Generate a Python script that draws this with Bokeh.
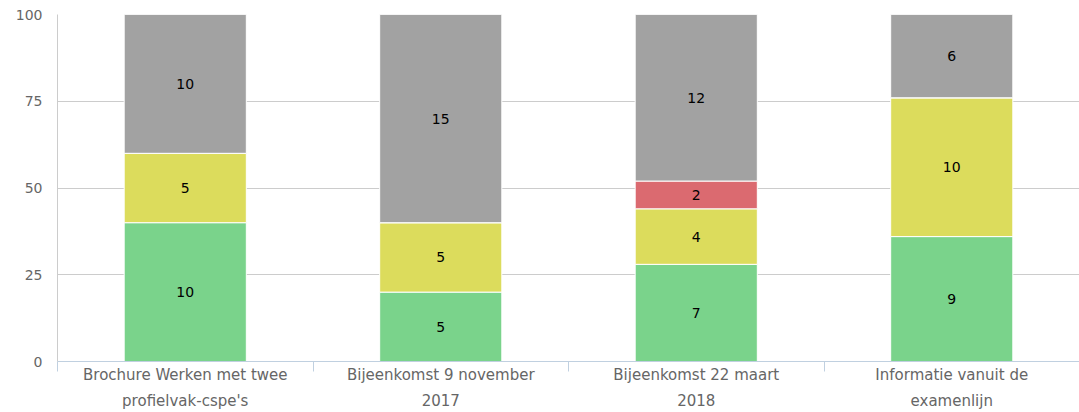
from bokeh.plotting import figure
from bokeh.models import ColumnDataSource, FixedTicker, Range1d
from bokeh.core.properties import value
from bokeh.embed import file_html
from bokeh.resources import INLINE

categories = ["Brochure Werken met twee\nprofielvak-cspe's",
              "Bijeenkomst 9 november\n2017",
              "Bijeenkomst 22 maart\n2018",
              "Informatie vanuit de\nexamenlijn"]
green = [10, 5, 7, 9]
yellow = [5, 5, 4, 10]
red = [0, 0, 2, 0]
gray = [10, 15, 12, 6]
series = [green, yellow, red, gray]
colors = ["#7ad38b", "#dcdc5c", "#db6a70", "#a2a2a2"]
y_ticks = [0, 25, 50, 75, 100]

FONT = "DejaVu Sans"

p = figure(width=1079, height=412, output_backend="svg", toolbar_location=None,
           x_range=Range1d(0, 4), y_range=Range1d(0, 100),
           min_border_left=57, min_border_right=0, min_border_top=14, min_border_bottom=30)
p.outline_line_color = None

xs = [i + 0.5 for i in range(len(categories))]
totals = [sum(s[i] for s in series) for i in range(len(categories))]
bottoms = [0.0] * len(categories)
lx, ly, lt = [], [], []
for s, c in zip(series, colors):
    pct = [v / t * 100 for v, t in zip(s, totals)]
    tops = [b + q for b, q in zip(bottoms, pct)]
    src = ColumnDataSource(dict(x=xs, bottom=bottoms, top=tops))
    p.vbar(x="x", bottom="bottom", top="top", width=0.478, source=src,
           fill_color=c, line_color="white", line_width=1)
    for i, v in enumerate(s):
        if v > 0:
            lx.append(xs[i]); ly.append((bottoms[i] + tops[i]) / 2); lt.append(str(v))
    bottoms = tops

p.text(x=lx, y=ly, text=lt, text_align="center", text_baseline="middle",
       text_font=value(FONT), text_font_size="14px", text_color="black")

# axes
xa = p.xaxis[0]
xa.ticker = FixedTicker(ticks=xs, minor_ticks=[0, 1, 2, 3, 4])
xa.major_label_overrides = {x: c for x, c in zip(xs, categories)}
xa.major_tick_out = 0
xa.major_tick_in = 0
xa.minor_tick_out = 10
xa.minor_tick_in = 0
xa.minor_tick_line_color = "#c0d0e0"
xa.axis_line_color = "#c0d0e0"
xa.major_label_text_font = FONT
xa.major_label_text_font_size = "15px"
xa.major_label_text_line_height = 1.45
xa.major_label_text_color = "#666666"
xa.major_label_standoff = -6

ya = p.yaxis[0]
ya.ticker = FixedTicker(ticks=y_ticks)
ya.major_tick_out = 0
ya.major_tick_in = 0
ya.minor_tick_line_color = None
ya.axis_line_color = "#cccccc"
ya.major_label_text_font = FONT
ya.major_label_text_font_size = "14px"
ya.major_label_text_color = "#666666"
ya.major_label_standoff = 15

p.xgrid.grid_line_color = None
p.ygrid.ticker = FixedTicker(ticks=y_ticks)
p.ygrid.grid_line_color = "#cccccc"
p.ygrid.grid_line_width = 1

open("out.html", "w").write(file_html(p, INLINE))
